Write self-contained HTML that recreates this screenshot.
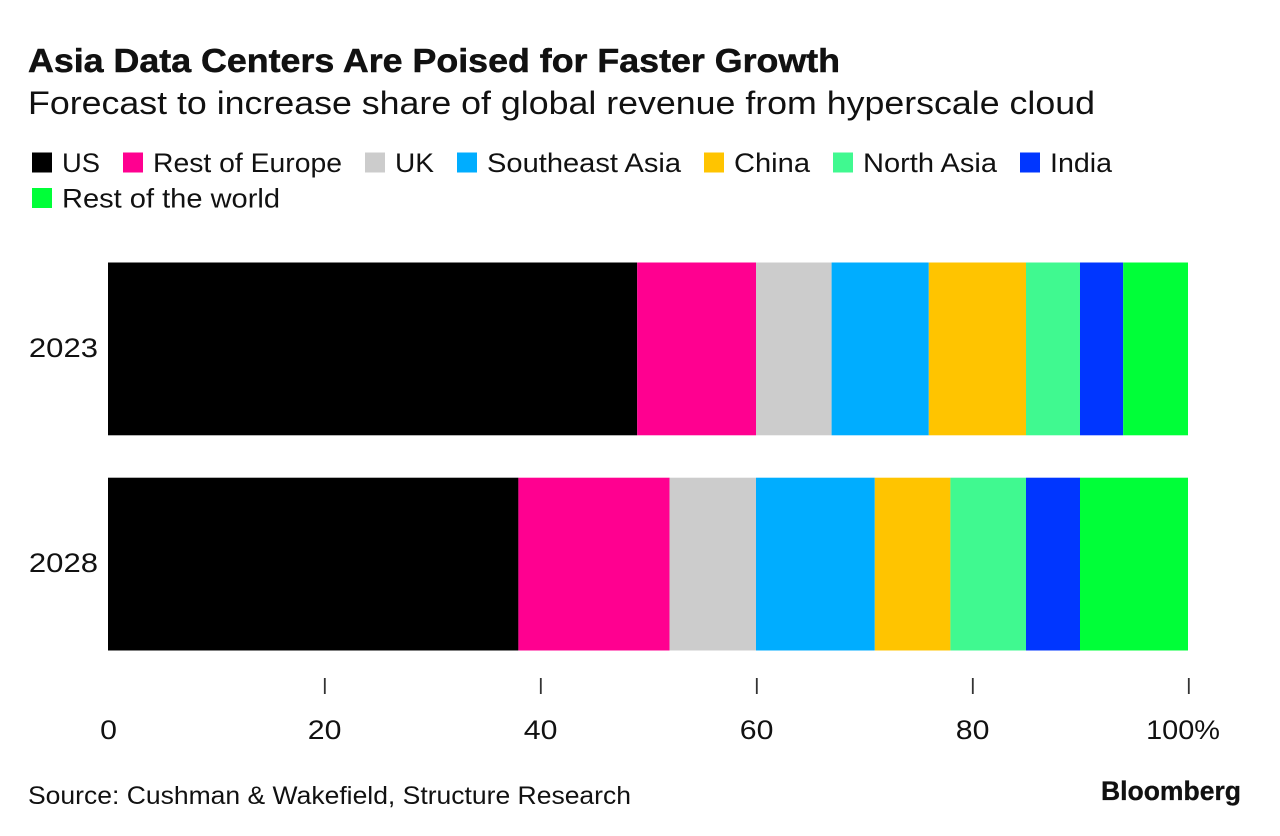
<!DOCTYPE html>
<html lang="en">
<head>
<meta charset="utf-8">
<title>Asia Data Centers Are Poised for Faster Growth</title>
<style>
html,body{margin:0;padding:0;background:#fff;width:1280px;height:836px;overflow:hidden}
svg{display:block}
text{font-family:"Liberation Sans",sans-serif;fill:#111}
</style>
</head>
<body>
<svg id="chart" width="1280" height="836" viewBox="0 0 1280 836" xmlns="http://www.w3.org/2000/svg">
  <rect width="1280" height="836" fill="#fff"/>
  <text x="28" y="72" font-size="33" font-weight="700" textLength="812" lengthAdjust="spacingAndGlyphs" stroke="#111" stroke-width="0.5">Asia Data Centers Are Poised for Faster Growth</text>
  <text x="28" y="114" font-size="32" textLength="1067" lengthAdjust="spacingAndGlyphs">Forecast to increase share of global revenue from hyperscale cloud</text>
  <g id="legend"></g>
  <g id="bars"></g>
  <g id="x-axis"></g>
  <g id="y-axis"></g>
  <text x="28" y="804" font-size="25" textLength="603" lengthAdjust="spacingAndGlyphs">Source: Cushman &amp; Wakefield, Structure Research</text>
  <text x="1101" y="800" font-size="27" font-weight="700" textLength="140" lengthAdjust="spacingAndGlyphs" stroke="#111" stroke-width="0.3">Bloomberg</text>
</svg>
<script>
const years = ['2023', '2028'];
const seriesNames = ['US', 'Rest of Europe', 'UK', 'Southeast Asia', 'China', 'North Asia', 'India', 'Rest of the world'];
const seriesColors = ['#000000', '#ff0090', '#cccccc', '#00adff', '#ffc400', '#40f990', '#0036ff', '#00ff38'];
const values2023 = [49, 11, 7, 9, 9, 5, 4, 6];
const values2028 = [38, 14, 8, 11, 7, 7, 5, 10];
const tickValues = [0, 20, 40, 60, 80, 100];
const tickLabels = ['0', '20', '40', '60', '80', '100%'];

const NS = 'http://www.w3.org/2000/svg';
const xScale = v => 108 + v * 10.8;
const rowTop = i => 262.5 + i * 215.2;
const BAR_H = 172.8;

function make(tag, attrs, parent, txt) {
  const el = document.createElementNS(NS, tag);
  for (const k in attrs) el.setAttribute(k, attrs[k]);
  if (txt !== undefined) el.textContent = txt;
  parent.appendChild(el);
  return el;
}

function widen(t, factor) {
  t.setAttribute('textLength', t.getComputedTextLength() * factor);
  t.setAttribute('lengthAdjust', 'spacingAndGlyphs');
}

// Bars
const barsG = document.getElementById('bars');
[values2023, values2028].forEach((vals, r) => {
  let acc = 0;
  vals.forEach((v, s) => {
    const rect = make('rect', {x: xScale(acc), y: rowTop(r), width: xScale(acc + v) - xScale(acc), height: BAR_H, fill: seriesColors[s]}, barsG);
    
    
    acc += v;
  });
});

// Y axis labels
const yG = document.getElementById('y-axis');
years.forEach((y, i) => {
  const t = make('text', {x: 98, y: rowTop(i) + BAR_H / 2 + 8, 'font-size': 27, 'text-anchor': 'end'}, yG, y);
  
  
  widen(t, 1.15);
});

// X axis ticks and labels
const xG = document.getElementById('x-axis');
tickValues.forEach((v, i) => {
  if (v > 0) {
    const line = make('line', {x1: xScale(v) + 0.8, x2: xScale(v) + 0.8, y1: 678, y2: 694, stroke: '#333', 'stroke-width': 1.8}, xG);
    
    
  }
  const isLast = i === tickValues.length - 1;
  const t = make('text', {x: isLast ? 1220 : xScale(v) + 0.6, y: 739, 'font-size': 27, 'text-anchor': isLast ? 'end' : 'middle'}, xG, tickLabels[i]);
  
  
  widen(t, isLast ? 1.07 : 1.12);
});

// Legend: rows wrap after the seventh entry
const legendG = document.getElementById('legend');
const legendTextWidths = [38, 189, 39, 194, 76, 134, 62, 218];
let lx = 32, ly = 152;
seriesNames.forEach((name, i) => {
  if (i === 7) { lx = 32; ly = 187.5; }
  const sw = make('rect', {x: lx, y: ly + 0.5, width: 20, height: 20, fill: seriesColors[i]}, legendG);
  
  
  const t = make('text', {x: lx + 30, y: ly + 20, 'font-size': 27, textLength: legendTextWidths[i], lengthAdjust: 'spacingAndGlyphs'}, legendG, name);
  
  
  lx += 30 + legendTextWidths[i] + 23;
});
</script>
</body>
</html>
